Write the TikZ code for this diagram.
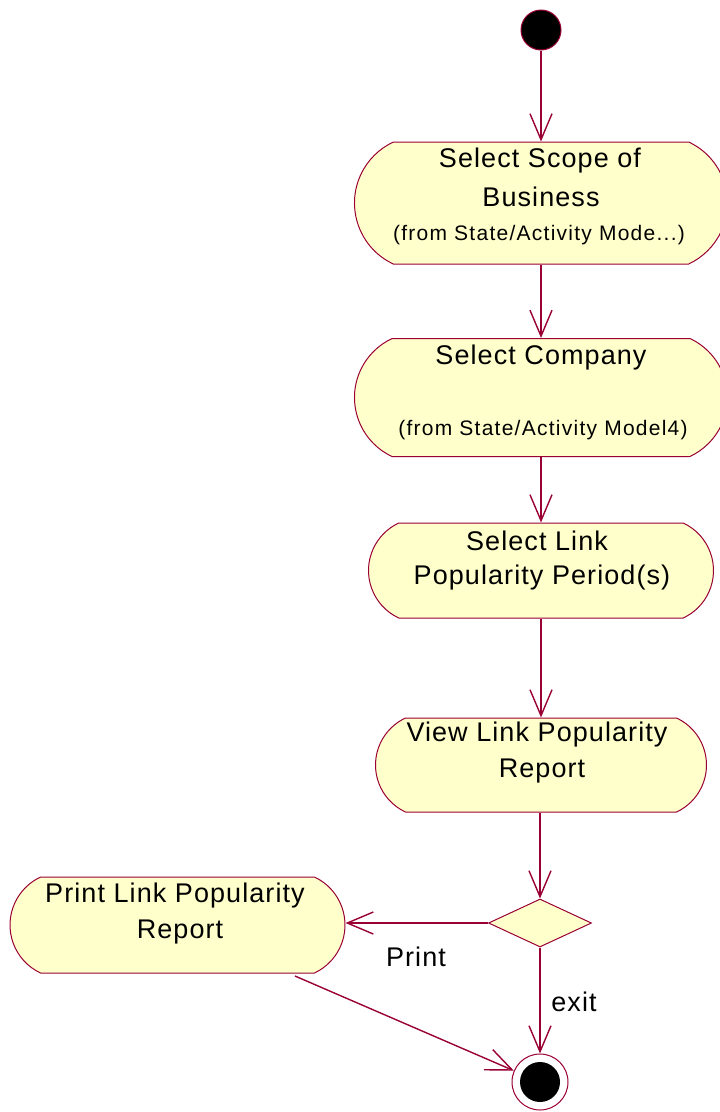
\documentclass[tikz,border=0pt]{standalone}
\usepackage{fontspec}
\setmainfont{Liberation Sans}
\newfontfamily\umlmain[LetterSpace=4]{Liberation Sans}
\newfontfamily\umlsmall[LetterSpace=6]{Liberation Sans}
\usetikzlibrary{shapes.misc,shapes.geometric,arrows.meta}
\definecolor{umlline}{RGB}{153,0,51}
\definecolor{umlfill}{RGB}{255,255,204}
\tikzset{
  actbox/.style={rounded rectangle, rounded rectangle arc length=130, draw=umlline, fill=umlfill, line width=1pt, inner sep=0pt},
  maintext/.style={font=\umlmain\fontsize{27}{35}\selectfont, inner sep=0pt, anchor=center},
  smalltext/.style={font=\umlsmall\fontsize{21}{26}\selectfont, inner sep=0pt, anchor=center},
  flow/.style={draw=umlline, line width=1.4pt, -{Straight Barb[length=26pt,width=22pt,line width=1.4pt]}},
}
\begin{document}
\begin{tikzpicture}[x=1pt,y=-1pt]
\useasboundingbox (0,0) rectangle (720,1112);
\clip (0,0) rectangle (720,1112);
% initial state
\node[circle, fill=black, draw=umlline, line width=1pt, minimum size=40pt, inner sep=0pt] (start) at (541,30) {};
% activities
\node[actbox, minimum width=373pt, minimum height=122pt] (b1) at (541,203) {};
\node[maintext] (t1a) at (540,161) {Select Scope of};
\node[maintext] (t1b) at (541,197) {Business};
\node[smalltext] (t1c) at (539,235) {(from State/Activity Mode...)};

\node[actbox, minimum width=373pt, minimum height=118pt] (b2) at (541,397.5) {};
\node[maintext] (t2a) at (541,358) {Select Company};
\node[smalltext] (t2b) at (543,430) {(from State/Activity Model4)};

\node[actbox, minimum width=345pt, minimum height=95pt] (b3) at (541,570.5) {};
\node[maintext] (t3a) at (537,541) {Select Link};
\node[maintext] (t3b) at (542,578) {Popularity Period(s)};

\node[actbox, minimum width=331pt, minimum height=94pt] (b4) at (541,765) {};
\node[maintext] (t4a) at (537,735) {View Link Popularity};
\node[maintext] (t4b) at (542,771) {Report};

\node[diamond, draw=umlline, fill=umlfill, line width=1pt, minimum width=103pt, minimum height=48pt, inner sep=0pt] (dec) at (540,923) {};

\node[actbox, minimum width=335pt, minimum height=96pt] (pr) at (177.5,925) {};
\node[maintext] (t5a) at (175,896) {Print Link Popularity};
\node[maintext] (t5b) at (180,932) {Report};

% final state
\node[circle, draw=umlline, fill=white, line width=1pt, minimum size=56pt, inner sep=0pt] (final) at (540,1082) {};
\fill[black] (final.center) circle (20pt);

% flows
\draw[flow] (start) -- (b1);
\draw[flow] (b1) -- (b2);
\draw[flow] (b2) -- (b3);
\draw[flow] (b3.south -| b2.south) -- (b4.north -| b2.south);
\draw[flow] (b4.south -| dec.north) -- (dec.north);
\draw[flow] (dec.west) -- (pr.east |- dec.west);
\draw[flow] (dec.south) -- (final);
\coordinate (pstart) at (295,976);
\draw[flow] (pstart) -- (final);

% labels
\node[maintext] (lprint) at (416,957) {Print};
\node[maintext] (lexit) at (574,1002) {exit};
\end{tikzpicture}
\end{document}
